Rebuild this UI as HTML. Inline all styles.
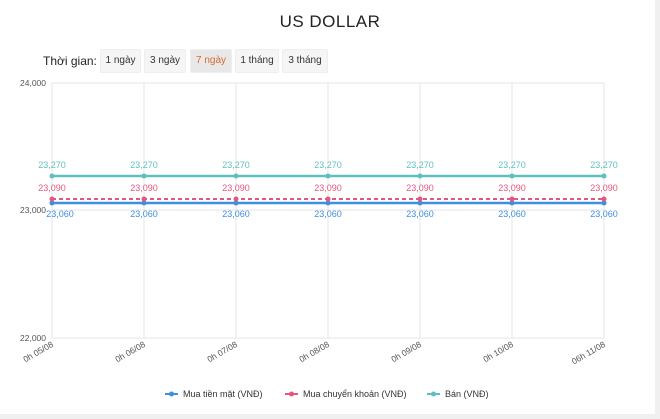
<!DOCTYPE html>
<html><head><meta charset="utf-8"><style>
body{margin:0;width:660px;height:419px;background:#f0f0f0;font-family:"Liberation Sans",sans-serif;overflow:hidden}
.p{position:absolute;left:0;top:0;width:655px;height:414px;background:#fff}
.t{position:absolute;top:12px;width:660px;text-align:center;font-size:17px;color:#222;letter-spacing:.5px}
.tg{position:absolute;left:43px;top:54px;font-size:12px;color:#222}
.b{position:absolute;top:49px;height:22px;line-height:22px;font-size:10px;color:#333;background:#f5f5f5;border:1px solid #eee;border-radius:2px;text-align:center}
</style></head><body>
<div class="p"></div>
<div class="t">US DOLLAR</div>
<div class="tg">Thời gian:</div>
<div class="b" style="left:100px;width:39px">1 ngày</div>
<div class="b" style="left:144px;width:40px">3 ngày</div>
<div class="b" style="left:190px;width:40px;background:#e8e8e8;color:#d9682f">7 ngày</div>
<div class="b" style="left:235px;width:42px">1 tháng</div>
<div class="b" style="left:282px;width:44px">3 tháng</div>
<svg style="position:absolute;left:0;top:0" width="660" height="419" font-family="Liberation Sans, sans-serif">
<g stroke="#e6e6e6" stroke-width="1">
<line x1="52" y1="83" x2="604" y2="83"/><line x1="52" y1="210" x2="604" y2="210"/><line x1="52" y1="338" x2="604" y2="338"/>
<line x1="52" y1="83" x2="52" y2="338"/><line x1="144" y1="83" x2="144" y2="338"/><line x1="236" y1="83" x2="236" y2="338"/><line x1="328" y1="83" x2="328" y2="338"/><line x1="420" y1="83" x2="420" y2="338"/><line x1="512" y1="83" x2="512" y2="338"/><line x1="604" y1="83" x2="604" y2="338"/>
</g>
<g font-size="8.5" fill="#555" text-anchor="end"><text x="46" y="86">24,000</text><text x="46" y="213">23,000</text><text x="46" y="341">22,000</text></g>
<g font-size="8.5" fill="#555" text-anchor="end">
<text transform="translate(54,346) rotate(-30)">0h 05/08</text>
<text transform="translate(146,346) rotate(-30)">0h 06/08</text>
<text transform="translate(238,346) rotate(-30)">0h 07/08</text>
<text transform="translate(330,346) rotate(-30)">0h 08/08</text>
<text transform="translate(422,346) rotate(-30)">0h 09/08</text>
<text transform="translate(514,346) rotate(-30)">0h 10/08</text>
<text transform="translate(606,346) rotate(-30)">06h 11/08</text>
</g>
<line x1="52" y1="176" x2="604" y2="176" stroke="#5fbfbf" stroke-width="2.5"/>
<line x1="52" y1="203" x2="604" y2="203" stroke="#3d8fe0" stroke-width="2.5"/>
<line x1="52" y1="199" x2="604" y2="199" stroke="#e8557a" stroke-width="2" stroke-dasharray="4,3"/>
<g>
<circle cx="52" cy="176" r="2.5" fill="#5fbfbf"/><circle cx="144" cy="176" r="2.5" fill="#5fbfbf"/><circle cx="236" cy="176" r="2.5" fill="#5fbfbf"/><circle cx="328" cy="176" r="2.5" fill="#5fbfbf"/><circle cx="420" cy="176" r="2.5" fill="#5fbfbf"/><circle cx="512" cy="176" r="2.5" fill="#5fbfbf"/><circle cx="604" cy="176" r="2.5" fill="#5fbfbf"/>
<circle cx="52" cy="203" r="2.5" fill="#3d8fe0"/><circle cx="144" cy="203" r="2.5" fill="#3d8fe0"/><circle cx="236" cy="203" r="2.5" fill="#3d8fe0"/><circle cx="328" cy="203" r="2.5" fill="#3d8fe0"/><circle cx="420" cy="203" r="2.5" fill="#3d8fe0"/><circle cx="512" cy="203" r="2.5" fill="#3d8fe0"/><circle cx="604" cy="203" r="2.5" fill="#3d8fe0"/>
<circle cx="52" cy="199" r="2.5" fill="#e8557a"/><circle cx="144" cy="199" r="2.5" fill="#e8557a"/><circle cx="236" cy="199" r="2.5" fill="#e8557a"/><circle cx="328" cy="199" r="2.5" fill="#e8557a"/><circle cx="420" cy="199" r="2.5" fill="#e8557a"/><circle cx="512" cy="199" r="2.5" fill="#e8557a"/><circle cx="604" cy="199" r="2.5" fill="#e8557a"/>
</g>
<g font-size="9" text-anchor="middle">
<g fill="#5fbfbf"><text x="52" y="168">23,270</text><text x="144" y="168">23,270</text><text x="236" y="168">23,270</text><text x="328" y="168">23,270</text><text x="420" y="168">23,270</text><text x="512" y="168">23,270</text><text x="604" y="168">23,270</text></g>
<g fill="#e8557a"><text x="52" y="191">23,090</text><text x="144" y="191">23,090</text><text x="236" y="191">23,090</text><text x="328" y="191">23,090</text><text x="420" y="191">23,090</text><text x="512" y="191">23,090</text><text x="604" y="191">23,090</text></g>
<g fill="#3d8fe0"><text x="60" y="217">23,060</text><text x="144" y="217">23,060</text><text x="236" y="217">23,060</text><text x="328" y="217">23,060</text><text x="420" y="217">23,060</text><text x="512" y="217">23,060</text><text x="604" y="217">23,060</text></g>
</g>
<g font-size="9" fill="#333">
<line x1="165" y1="394" x2="178" y2="394" stroke="#3d8fe0" stroke-width="2"/><circle cx="171.5" cy="394" r="2.5" fill="#3d8fe0"/><text x="183" y="397">Mua tiền mặt (VNĐ)</text>
<line x1="285" y1="394" x2="298" y2="394" stroke="#e8557a" stroke-width="2"/><circle cx="291.5" cy="394" r="2.5" fill="#e8557a"/><text x="303" y="397">Mua chuyển khoản (VNĐ)</text>
<line x1="427" y1="394" x2="440" y2="394" stroke="#5fbfbf" stroke-width="2"/><circle cx="433.5" cy="394" r="2.5" fill="#5fbfbf"/><text x="445" y="397">Bán (VNĐ)</text>
</g>
</svg>
</body></html>
